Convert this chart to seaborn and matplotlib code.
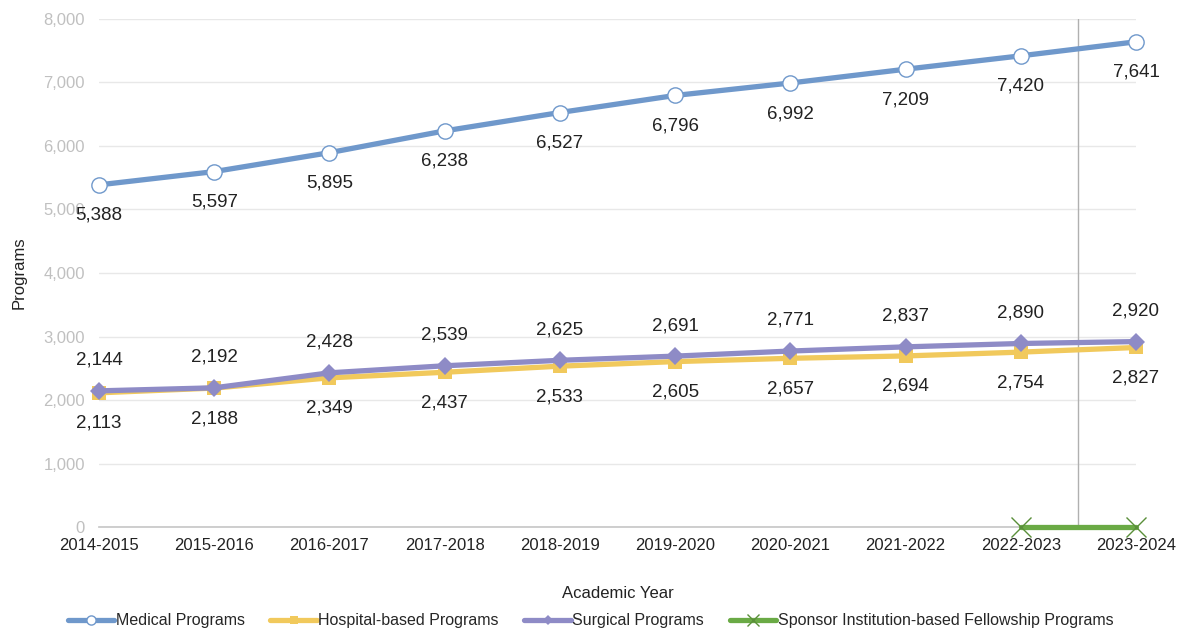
import pandas as pd
import matplotlib.pyplot as plt
import seaborn as sns

years = ["2014-2015", "2015-2016", "2016-2017", "2017-2018", "2018-2019",
         "2019-2020", "2020-2021", "2021-2022", "2022-2023", "2023-2024"]
medical = [5388, 5597, 5895, 6238, 6527, 6796, 6992, 7209, 7420, 7641]
hospital = [2113, 2188, 2349, 2437, 2533, 2605, 2657, 2694, 2754, 2827]
surgical = [2144, 2192, 2428, 2539, 2625, 2691, 2771, 2837, 2890, 2920]
sponsor_years = ["2022-2023", "2023-2024"]
sponsor = [0, 0]

sns.set_theme(style="white")
plt.rcParams["font.family"] = ["Liberation Sans", "DejaVu Sans"]

pos = {y: i for i, y in enumerate(years)}
df = pd.DataFrame({"x": range(len(years)), "Medical": medical,
                   "Hospital": hospital, "Surgical": surgical})
df_sp = pd.DataFrame({"x": [pos[y] for y in sponsor_years], "v": sponsor})

fig = plt.figure(figsize=(11.8, 6.31), dpi=100)
ax = fig.add_axes([0.0839, 0.1648, 0.8788, 0.8051])

blue, yellow, purple, green = "#6f98cb", "#f1c95c", "#8e8bc6", "#6aaa45"

sns.lineplot(data=df, x="x", y="Medical", ax=ax, color=blue, lw=3.8,
             marker="o", markersize=11, markerfacecolor="white",
             markeredgecolor=blue, markeredgewidth=1, label="Medical Programs",
             zorder=3, clip_on=False)
sns.lineplot(data=df, x="x", y="Hospital", ax=ax, color=yellow, lw=3.8,
             marker="s", markersize=10, markeredgewidth=0, label="Hospital-based Programs",
             zorder=3, clip_on=False)
sns.lineplot(data=df, x="x", y="Surgical", ax=ax, color=purple, lw=3.8,
             marker="D", markersize=9, markeredgewidth=0, label="Surgical Programs",
             zorder=4, clip_on=False)
sns.lineplot(data=df_sp, x="x", y="v", ax=ax, color=green, lw=3.8,
             marker="x", markersize=14, markeredgewidth=1, markeredgecolor="#5a8f3a",
             label="Sponsor Institution-based Fellowship Programs", zorder=4, clip_on=False)

fs = 13.5
for i in range(len(years)):
    ax.annotate(f"{medical[i]:,}", (i, medical[i]), xytext=(0, -22), textcoords="offset points",
                ha="center", va="center", fontsize=fs, color="#222222")
    ax.annotate(f"{hospital[i]:,}", (i, hospital[i]), xytext=(0, -22), textcoords="offset points",
                ha="center", va="center", fontsize=fs, color="#222222")
    ax.annotate(f"{surgical[i]:,}", (i, surgical[i]), xytext=(0, 22), textcoords="offset points",
                ha="center", va="center", fontsize=fs, color="#222222")

ax.axvline(8.5, color="#b0b0b0", lw=1, zorder=1)

ax.set_xlim(0, len(years) - 1)
ax.set_ylim(0, 8000)
ax.set_yticks(range(0, 8001, 1000))
ax.set_yticklabels([f"{v:,}" for v in range(0, 8001, 1000)], color="#c0c0c0", fontsize=12)
ax.set_xticks(range(len(years)))
ax.set_xticklabels(years, fontsize=12, color="#222222")
ax.yaxis.grid(True, color="#e8e8e8", lw=1)
ax.set_axisbelow(True)
for s in ["top", "right", "left"]:
    ax.spines[s].set_visible(False)
ax.spines["bottom"].set_color("#c8c8c8")
ax.tick_params(axis="x", length=5, color="#c8c8c8", pad=3)
ax.tick_params(axis="y", length=0, pad=10)
ax.set_xlabel("Academic Year", fontsize=12, color="#222222", labelpad=24)
ax.set_ylabel("Programs", fontsize=12, color="#222222", labelpad=12)

ax.legend(loc="center", bbox_to_anchor=(0.474, -0.185), ncol=4, frameon=False,
          fontsize=11.5, handlelength=2.9, columnspacing=1.6, handletextpad=0.1,
          markerscale=0.6)

fig.savefig("out.png", dpi=100)
